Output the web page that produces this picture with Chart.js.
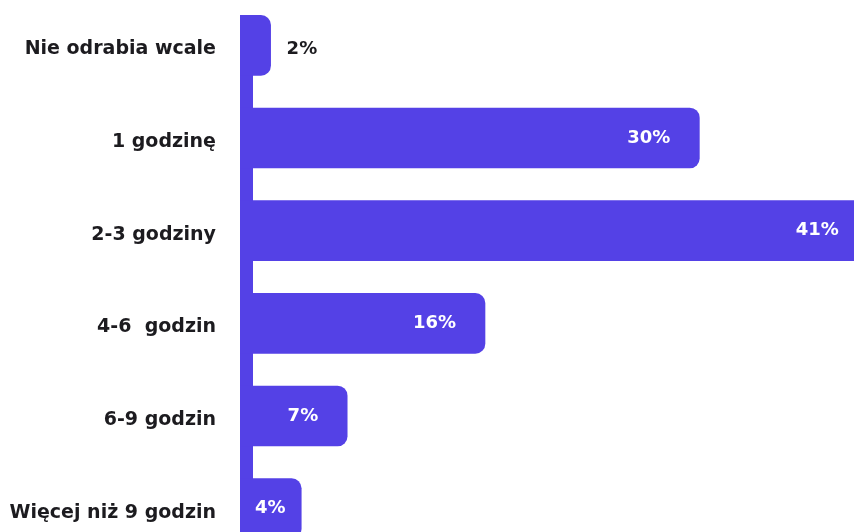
<!DOCTYPE html>
<html>
<head>
<meta charset="utf-8">
<script src="https://cdn.jsdelivr.net/npm/chart.js@4"></script>
<style>
  html, body { margin: 0; padding: 0; background: #ffffff; overflow: hidden; width: 854px; height: 532px; }
  #wrap { position: absolute; left: 0; top: -1px; width: 854px; height: 556px; }
</style>
</head>
<body>
<div id="wrap"><canvas id="chart" width="854" height="556"></canvas></div>
<script>
// Czas odrabiania lekcji dziennie
const categories = ['Nie odrabia wcale', '1 godzinę', '2-3 godziny', '4-6  godzin', '6-9 godzin', 'Więcej niż 9 godzin'];
const shares = [2, 30, 41, 16, 7, 4];
const valueLabels = ['2%', '30%', '41%', '16%', '7%', '4%'];

const PURPLE = 'rgb(84, 65, 230)';
const INK = '#1c1b1f';
const FONT = '"DejaVu Sans", sans-serif';

// thick vertical stem along the category axis
const stemPlugin = {
  id: 'stem',
  beforeDatasetsDraw(chart) {
    const meta = chart.getDatasetMeta(0);
    const first = meta.data[0];
    const top = first.y - first.height / 2;
    const ctx = chart.ctx;
    ctx.save();
    ctx.fillStyle = PURPLE;
    ctx.fillRect(chart.chartArea.left, top, 13, chart.height - top);
    ctx.restore();
  }
};

// percentage labels at the end of each bar
const valuePlugin = {
  id: 'values',
  afterDatasetsDraw(chart) {
    const meta = chart.getDatasetMeta(0);
    const ctx = chart.ctx;
    const stemRight = chart.chartArea.left + 13;
    ctx.save();
    ctx.font = '700 18px ' + FONT;
    ctx.textBaseline = 'middle';
    ctx.textAlign = 'left';
    meta.data.forEach((bar, i) => {
      const text = valueLabels[i];
      const w = ctx.measureText(text).width;
      const end = bar.x;
      let left = end - 29 - w;
      if (left < stemRight + 2) left = stemRight + 2;
      if (left + w > end - 8) {
        ctx.fillStyle = INK;
        ctx.fillText(text, end + 16, bar.y + 4);
      } else {
        ctx.fillStyle = '#ffffff';
        ctx.fillText(text, left, bar.y);
      }
    });
    ctx.restore();
  }
};

new Chart(document.getElementById('chart'), {
  type: 'bar',
  data: {
    labels: categories,
    datasets: [{
      data: shares,
      backgroundColor: PURPLE,
      borderWidth: 0,
      borderRadius: { topLeft: 0, bottomLeft: 0, topRight: 10, bottomRight: 10 },
      borderSkipped: 'start',
      barThickness: 60
    }]
  },
  options: {
    indexAxis: 'y',
    responsive: false,
    animation: false,
    layout: { padding: 0 },
    plugins: {
      legend: { display: false },
      tooltip: { enabled: false }
    },
    scales: {
      x: {
        display: false,
        min: 0,
        max: 40.1
      },
      y: {
        grid: { display: false, drawTicks: false },
        border: { display: false },
        ticks: {
          padding: 24,
          labelOffset: 4,
          color: INK,
          font: { family: FONT, size: 19, weight: '700' }
        },
        afterFit(scale) {
          scale.width = 240;
          scale.paddingTop = 0;
          scale.paddingBottom = 0;
        }
      }
    }
  },
  plugins: [stemPlugin, valuePlugin]
});
</script>
</body>
</html>
